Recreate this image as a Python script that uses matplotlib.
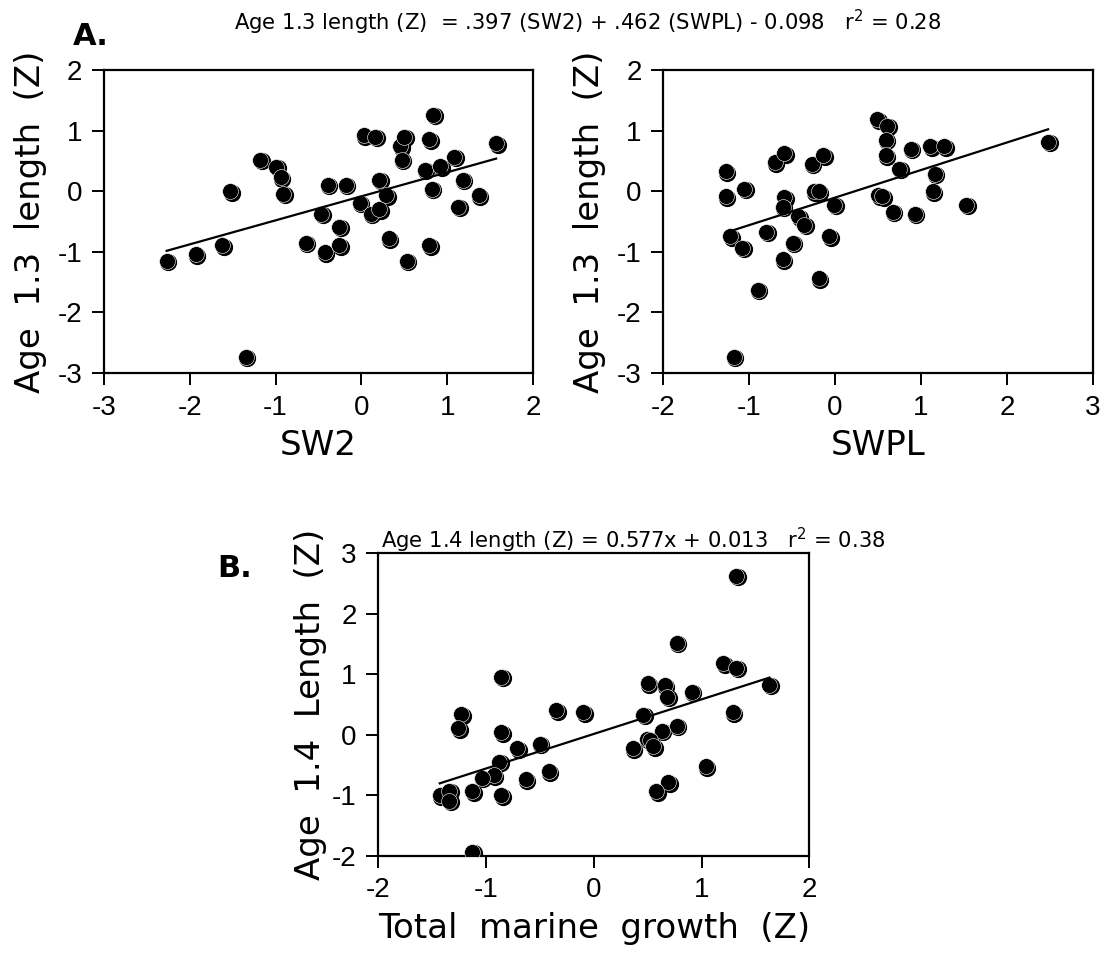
import numpy as np
import matplotlib
matplotlib.use('Agg')
import matplotlib.pyplot as plt
from matplotlib.transforms import offset_copy

plt.rcParams['font.family'] = ['DejaVu Sans']
plt.rcParams['mathtext.default'] = 'regular'

# panel A, left: SW2 vs age 1.3 length
sw2_x = [-2.27, -1.93, -1.62, -1.53, -1.35, -1.18, -0.99, -0.94, -0.91, -0.65,
         -0.43, -0.47, -0.39, -0.26, -0.26, -0.18, -0.02, 0.03, 0.16, 0.11,
         0.21, 0.21, 0.29, 0.32, 0.45, 0.50, 0.47, 0.53, 0.74, 0.79,
         0.84, 0.79, 0.82, 0.92, 1.08, 1.18, 1.13, 1.37, 1.57]
sw2_y = [-1.15, -1.04, -0.89, 0.00, -2.73, 0.52, 0.40, 0.23, -0.04, -0.85,
         -1.01, -0.37, 0.11, -0.59, -0.89, 0.11, -0.19, 0.92, 0.90, -0.37,
         -0.30, 0.19, -0.07, -0.78, 0.74, 0.90, 0.52, -1.15, 0.35, 0.86,
         1.26, -0.89, 0.04, 0.41, 0.57, 0.19, -0.26, -0.07, 0.79]

# panel A, right: SWPL vs age 1.3 length
swpl_x = [-1.27, -1.27, -1.22, -1.18, -1.08, -1.06, -0.90, -0.80, -0.70, -0.59,
          -0.59, -0.61, -0.61, -0.49, -0.43, -0.36, -0.27, -0.25, -0.19, -0.14,
          -0.19, -0.07, -0.01, 0.49, 0.61, 0.59, 0.59, 0.50, 0.55, 0.67,
          0.75, 0.88, 0.93, 1.11, 1.27, 1.16, 1.14, 1.53, 2.48]
swpl_y = [0.33, -0.08, -0.74, -2.73, -0.93, 0.04, -1.63, -0.67, 0.48, 0.63,
          -0.10, -0.26, -1.12, -0.85, -0.41, -0.55, 0.45, 0.00, 0.00, 0.59,
          -1.44, -0.74, -0.22, 1.19, 1.08, 0.85, 0.59, -0.07, -0.08, -0.34,
          0.37, 0.70, -0.37, 0.74, 0.74, 0.29, 0.00, -0.22, 0.82]

# panel B: total marine growth vs age 1.4 length
tmg_x = [1.32, 0.77, 1.20, 1.32, 1.63, 1.29, 0.91, 1.04, 0.50, 0.66,
         0.68, 0.77, 0.46, 0.63, 0.49, 0.52, 0.55, 0.36, 0.69, 0.58,
         -0.86, -0.35, -0.10, -1.23, -1.26, -0.86, -0.71, -0.50, -0.88, -0.42,
         -0.63, -0.93, -1.04, -1.13, -0.86, -1.43, -1.34, -1.34, -1.13]
tmg_y = [2.63, 1.52, 1.18, 1.11, 0.83, 0.37, 0.71, -0.52, 0.85, 0.82,
         0.63, 0.15, 0.33, 0.07, -0.06, -0.09, -0.19, -0.22, -0.78, -0.93,
         0.96, 0.41, 0.37, 0.34, 0.11, 0.04, -0.22, -0.15, -0.44, -0.60,
         -0.73, -0.67, -0.71, -0.93, -1.00, -1.00, -0.92, -1.09, -1.93]

title_a = 'Age 1.3 length (Z)  = .397 (SW2) + .462 (SWPL) - 0.098   r$^2$ = 0.28'
title_b = 'Age 1.4 length (Z) = 0.577x + 0.013   r$^2$ = 0.38'

tick_font = {'family': ['Liberation Sans', 'DejaVu Sans'], 'size': 20}
label_font = {'family': 'DejaVu Sans', 'size': 24.5}


def draw_panel(fig, rect, x, y, xlim, ylim, xlabel, ylabel, ypad):
    ax = fig.add_axes(rect)
    # shadow dot under each point
    shadow = offset_copy(ax.transData, fig=fig, x=1.5, y=-1.5, units='dots')
    ax.scatter(x, y, s=130, color='black', transform=shadow, zorder=2)
    ax.scatter(x, y, s=130, color='black', edgecolors='white',
               linewidths=0.4, zorder=3)

    slope, icpt = np.polyfit(x, y, 1)
    xs = np.array([min(x), max(x)])
    ax.plot(xs, slope * xs + icpt, color='black', lw=1.6, zorder=4)

    ax.set_xlim(*xlim)
    ax.set_ylim(*ylim)
    ax.set_xticks(range(xlim[0], xlim[1] + 1))
    ax.set_yticks(range(ylim[0], ylim[1] + 1))
    ax.set_xticklabels([str(v) for v in range(xlim[0], xlim[1] + 1)], fontdict=tick_font)
    ax.set_yticklabels([str(v) for v in range(ylim[0], ylim[1] + 1)], fontdict=tick_font)
    ax.tick_params(direction='out', length=8.5, width=1.4, pad=7)
    for sp in ax.spines.values():
        sp.set_linewidth(1.6)
    ax.set_xlabel(xlabel, fontdict=label_font, labelpad=6)
    ax.set_ylabel(ylabel, fontdict=label_font, labelpad=ypad)
    return ax


fig = plt.figure(figsize=(11.04, 9.55), dpi=100)

draw_panel(fig, [0.0942, 0.6094, 0.3886, 0.3173], sw2_x, sw2_y,
           (-3, 2), (-3, 2), 'SW2', 'Age  1.3  length  (Z)', 8)
draw_panel(fig, [0.6008, 0.6094, 0.3890, 0.3173], swpl_x, swpl_y,
           (-2, 3), (-3, 2), 'SWPL', 'Age  1.3  length  (Z)', 8)
draw_panel(fig, [0.3427, 0.1037, 0.3904, 0.3170], tmg_x, tmg_y,
           (-2, 2), (-2, 3), 'Total  marine  growth  (Z)', 'Age  1.4  Length  (Z)', 4)

fig.text(0.532, 0.977, title_a, ha='center', va='center', fontsize=15.2)
fig.text(0.574, 0.434, title_b, ha='center', va='center', fontsize=15.2)
fig.text(0.066, 0.962, 'A.', ha='left', va='center', fontsize=22,
         family='DejaVu Sans', weight='bold')
fig.text(0.197, 0.405, 'B.', ha='left', va='center', fontsize=22,
         family='DejaVu Sans', weight='bold')

fig.savefig('out.png', dpi=100)
